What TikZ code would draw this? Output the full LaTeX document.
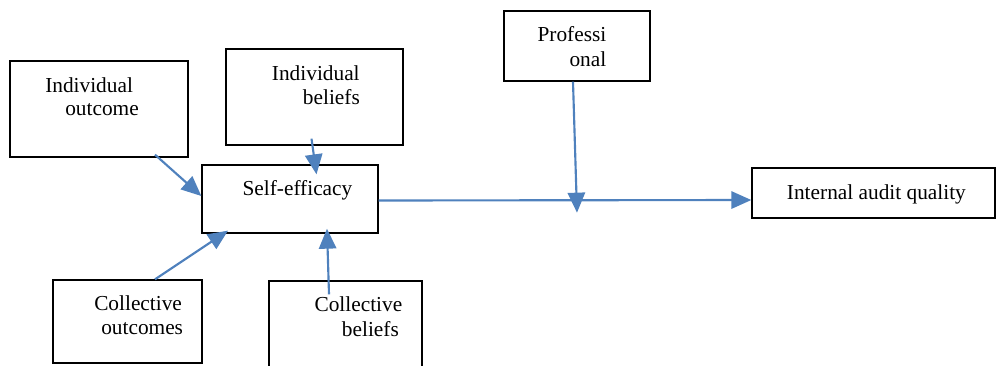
\documentclass[tikz,border=0pt]{standalone}
\usepackage{fontspec}
\setmainfont{Liberation Serif}
\usetikzlibrary{fit,calc,arrows.meta}
\definecolor{arrowblue}{RGB}{79,129,189}
\tikzset{
  box/.style={draw=black,line width=1pt,inner sep=0pt,fill=none},
  txt/.style={inner sep=0pt,anchor=base west,font=\fontsize{16}{19}\selectfont},
  arr/.style={draw=arrowblue,line width=1.6pt,-{Triangle[length=15pt,width=13pt]}},
}
\begin{document}
\begin{tikzpicture}[x=0.75pt,y=-0.75pt]
\useasboundingbox (0,0) rectangle (997,365);
% boxes
\node[box,fit={(10,61)(188,157)}] (io) {};
\node[box,fit={(226,49)(403,145)}] (ib) {};
\node[box,fit={(202,165)(378,233)}] (se) {};
\node[box,fit={(504,11)(650,81)}] (pr) {};
\node[box,fit={(752,168)(995,218)}] (iaq) {};
\node[box,fit={(53,280)(202,363)}] (co) {};
\node[box,fit={(269,281)(422,372)}] (cb) {};
% texts
\node[txt] (t1) at (45,92.7) {Individual};
\node[txt] (t2) at (65,115.7) {outcome};
\node[txt] (t3) at (271.7,80) {Individual};
\node[txt] (t4) at (302.7,104.3) {beliefs};
\node[txt] (t5) at (242.3,195.7) {Self-efficacy};
\node[txt] (t6) at (537.3,41) {Professi};
\node[txt] (t7) at (569.3,66) {onal};
\node[txt] (t8) at (786.7,199) {Internal audit quality};
\node[txt] (t9) at (94,310.7) {Collective};
\node[txt] (t10) at (101,334.3) {outcomes};
\node[txt] (t11) at (314.3,311.7) {Collective};
\node[txt] (t12) at (341.7,336.7) {beliefs};
% connectors
\coordinate (mod) at ($(pr.south)+(0,131)$);
\draw[arr] ($(io.south)+(56,-3)$) -- ($(se.west)+(0,-3)$);
\draw[arr] ($(ib.south)+(-3,-7)$) -- ($(se.north)+(26.5,10)$);
\draw[arr] ($(se.east)+(0,1.5)$) -- ($(iaq.west)+(0,7)$);
\draw[arr] ($(pr.south)+(-4,0)$) -- (mod);
\draw[arr] ($(co.north)+(27.5,0)$) -- ($(se.south)+(-62,-3)$);
\draw[arr] ($(cb.north)+(-16.5,14)$) -- ($(se.south)+(37,-5)$);
\end{tikzpicture}
\end{document}
